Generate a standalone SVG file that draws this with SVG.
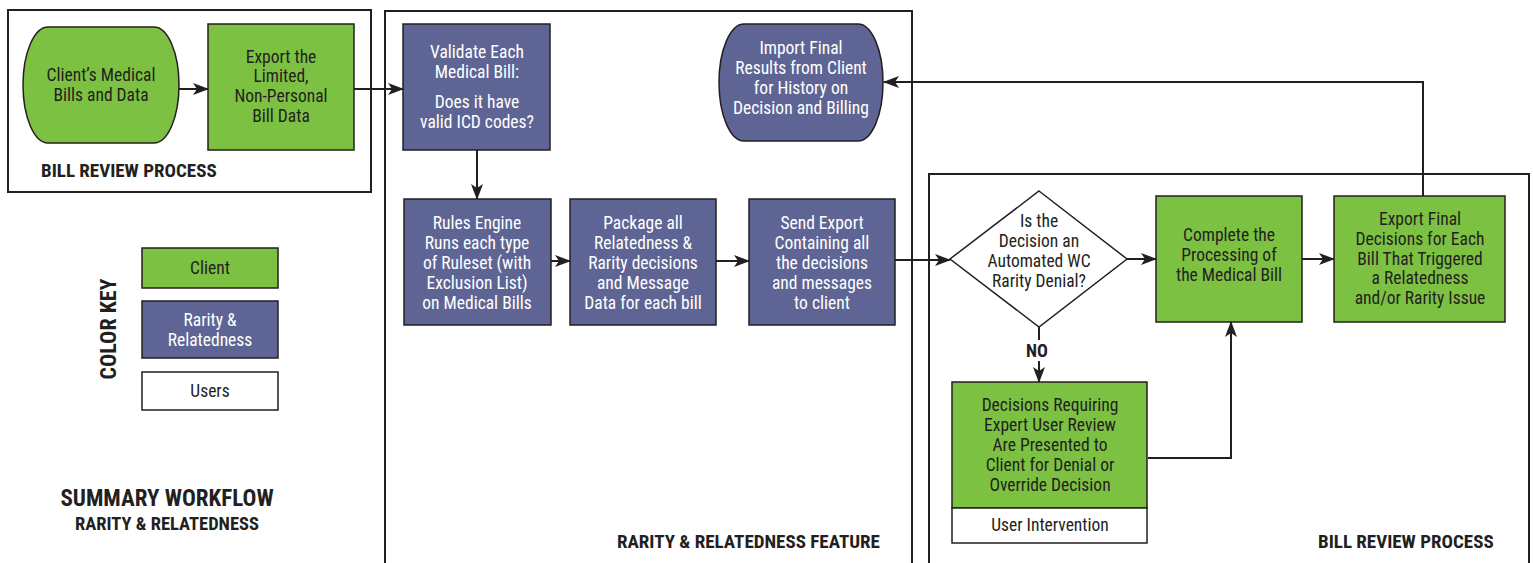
<svg xmlns="http://www.w3.org/2000/svg" width="1533" height="563" viewBox="0 0 1533 563">
<defs>
<style>
text{font-family:"Liberation Sans Narrow","Roboto Condensed","DejaVu Sans Condensed","Liberation Sans",sans-serif;text-anchor:middle;}
.t{font-size:17.5px;fill:#231f20;}
.w{font-size:17.5px;fill:#ffffff;}
.h{font-size:19px;font-weight:bold;fill:#231f20;text-anchor:start;}
.g{fill:#7dc142;stroke:#231f20;stroke-width:1.5;}
.p{fill:#5e6595;stroke:#231f20;stroke-width:1.5;}
.u{fill:#ffffff;stroke:#231f20;stroke-width:1.5;}
.frame{fill:none;stroke:#231f20;stroke-width:2;}
.c{fill:none;stroke:#231f20;stroke-width:2;marker-end:url(#arr);}
</style>
<marker id="arr" viewBox="0 0 16 12" refX="15" refY="6" markerWidth="16" markerHeight="12" markerUnits="userSpaceOnUse" orient="auto">
<path d="M0,0 L16,6 L0,12 L4,6 Z" fill="#231f20"/>
</marker>
</defs>
<rect width="1533" height="563" fill="#ffffff"/>

<g id="frames">
<rect class="frame" x="8" y="10" width="363" height="182"/>
<rect class="frame" x="385" y="11" width="527" height="570"/>
<rect class="frame" x="929" y="174" width="600" height="420"/>
<text class="h" x="41" y="177">BILL REVIEW PROCESS</text>
<text class="h" x="617" y="548">RARITY &amp; RELATEDNESS FEATURE</text>
<text class="h" x="1318" y="548">BILL REVIEW PROCESS</text>
</g>

<g id="connectors">
<path class="c" d="M179,89 H208"/>
<path class="c" d="M354,89 H403"/>
<path class="c" d="M477,150 V199"/>
<path class="c" d="M551,261 H570"/>
<path class="c" d="M716,261 H749"/>
<path class="c" d="M895,260 H950"/>
<path class="c" d="M1127,259 H1156"/>
<path class="c" d="M1302,259 H1334"/>
<path class="c" d="M1423,196 V82 H884"/>
<path class="c" d="M1039,327 V340 M1039,361 V382"/>
<path class="c" d="M1148,458 H1231 V322"/>
<text class="h" x="1037" y="357" style="text-anchor:middle;font-size:18px">NO</text>
</g>

<g id="n-client-bills">
<path class="g" d="M48,27 H154 A25,58 0 0 1 154,143 H48 A25,58 0 0 1 48,27 Z"/>
<text class="t" x="101" y="81">Client’s Medical</text>
<text class="t" x="101" y="101">Bills and Data</text>
</g>

<g id="n-export-limited">
<rect class="g" x="208" y="24" width="146" height="126"/>
<text class="t" x="281" y="63">Export the</text>
<text class="t" x="281" y="82">Limited,</text>
<text class="t" x="281" y="102">Non-Personal</text>
<text class="t" x="281" y="122">Bill Data</text>
</g>

<g id="n-validate">
<rect class="p" x="403" y="24" width="147" height="126"/>
<text class="w" x="477" y="58">Validate Each</text>
<text class="w" x="477" y="78">Medical Bill:</text>
<text class="w" x="477" y="108">Does it have</text>
<text class="w" x="477" y="128">valid ICD codes?</text>
</g>

<g id="n-import">
<path class="p" d="M744,24 H858 A25,58.5 0 0 1 858,141 H744 A25,58.5 0 0 1 744,24 Z"/>
<text class="w" x="801" y="54">Import Final</text>
<text class="w" x="801" y="74">Results from Client</text>
<text class="w" x="801" y="94">for History on</text>
<text class="w" x="801" y="114">Decision and Billing</text>
</g>

<g id="n-rules">
<rect class="p" x="404" y="199" width="147" height="126"/>
<text class="w" x="477" y="229">Rules Engine</text>
<text class="w" x="477" y="249">Runs each type</text>
<text class="w" x="477" y="269">of Ruleset (with</text>
<text class="w" x="477" y="289">Exclusion List)</text>
<text class="w" x="477" y="309">on Medical Bills</text>
</g>

<g id="n-package">
<rect class="p" x="570" y="199" width="146" height="126"/>
<text class="w" x="643" y="229">Package all</text>
<text class="w" x="643" y="249">Relatedness &amp;</text>
<text class="w" x="643" y="269">Rarity decisions</text>
<text class="w" x="643" y="289">and Message</text>
<text class="w" x="643" y="309">Data for each bill</text>
</g>

<g id="n-send">
<rect class="p" x="749" y="199" width="146" height="126"/>
<text class="w" x="822" y="229">Send Export</text>
<text class="w" x="822" y="249">Containing all</text>
<text class="w" x="822" y="269">the decisions</text>
<text class="w" x="822" y="289">and messages</text>
<text class="w" x="822" y="309">to client</text>
</g>

<g id="n-decision">
<path class="u" d="M1039,191 L1127,259 L1039,327 L950,259 Z"/>
<text class="t" x="1039" y="227">Is the</text>
<text class="t" x="1039" y="247">Decision an</text>
<text class="t" x="1039" y="267">Automated WC</text>
<text class="t" x="1039" y="287">Rarity Denial?</text>
</g>

<g id="n-complete">
<rect class="g" x="1156" y="196" width="146" height="126"/>
<text class="t" x="1229" y="241">Complete the</text>
<text class="t" x="1229" y="261">Processing of</text>
<text class="t" x="1229" y="281">the Medical Bill</text>
</g>

<g id="n-export-final">
<rect class="g" x="1334" y="196" width="171" height="126"/>
<text class="t" x="1420" y="225">Export Final</text>
<text class="t" x="1420" y="245">Decisions for Each</text>
<text class="t" x="1420" y="265">Bill That Triggered</text>
<text class="t" x="1420" y="284">a Relatedness</text>
<text class="t" x="1420" y="304">and/or Rarity Issue</text>
</g>

<g id="n-expert-review">
<rect class="g" x="952" y="382" width="195" height="126"/>
<rect class="u" x="952" y="508" width="195" height="35"/>
<text class="t" x="1050" y="411">Decisions Requiring</text>
<text class="t" x="1050" y="431">Expert User Review</text>
<text class="t" x="1050" y="451">Are Presented to</text>
<text class="t" x="1050" y="471">Client for Denial or</text>
<text class="t" x="1050" y="491">Override Decision</text>
<text class="t" x="1050" y="531">User Intervention</text>
</g>

<g id="legend">
<rect class="g" x="142" y="248" width="136" height="40"/>
<text class="t" x="210" y="274">Client</text>
<rect class="p" x="142" y="301" width="136" height="57"/>
<text class="w" x="210" y="326">Rarity &amp;</text>
<text class="w" x="210" y="346">Relatedness</text>
<rect class="u" x="142" y="372" width="136" height="38"/>
<text class="t" x="210" y="397">Users</text>
<text class="h" x="0" y="0" style="text-anchor:middle;font-size:22px" transform="translate(116,329) rotate(-90)">COLOR KEY</text>
</g>

<g id="title">
<text class="h" x="167" y="506" style="text-anchor:middle;font-size:23px">SUMMARY WORKFLOW</text>
<text class="h" x="167" y="530" style="text-anchor:middle;font-size:18.5px">RARITY &amp; RELATEDNESS</text>
</g>
</svg>
